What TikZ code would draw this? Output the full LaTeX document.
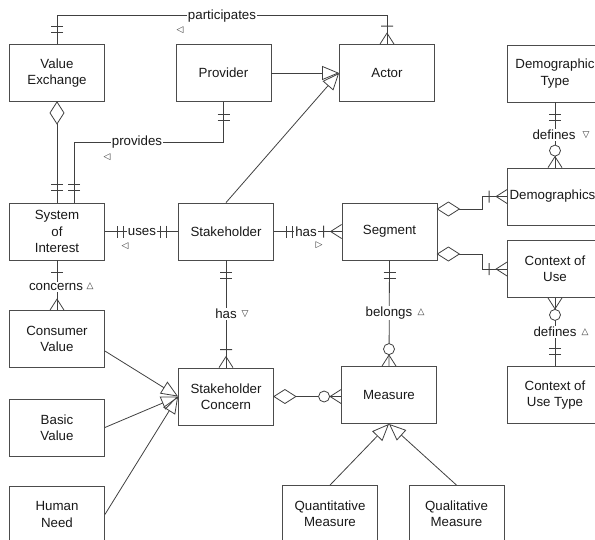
\documentclass[tikz,border=0pt]{standalone}
\usepackage{fontspec}
\setmainfont{Liberation Sans}
\newfontfamily\symfont{DejaVu Sans}
\usetikzlibrary{arrows.meta}
\begin{document}
\begin{tikzpicture}[x=1pt,y=1pt,line width=0.8pt,color=black!75,
  box/.style={draw=black!70,fill=white,minimum width=95pt,minimum height=57pt,align=center,inner sep=1pt,text=black!90,font=\fontsize{13.3}{16.3}\selectfont},
  lbl/.style={fill=white,inner sep=1pt,text=black!90,font=\fontsize{13.3}{16}\selectfont},
  tri/.style={inner sep=0pt,text=black!80,font=\symfont\fontsize{9}{10}\selectfont},
  gen/.style={-{Triangle[open,length=17pt,width=14pt]}},
  dbar/.pic={\draw (12,-6)--(12,6) (18,-6)--(18,6);},
  onebar/.pic={\draw (12,-6)--(12,6);},
  crow/.pic={\draw (0,-7)--(11,0)--(0,7);},
  crowbar/.pic={\draw (0,-7)--(11,0)--(0,7) (18,-6)--(18,6);},
  crowcirc/.pic={\draw (0,-7)--(11,0)--(0,7); \draw[fill=white] (17,0) circle (5.5);},
  diam/.pic={\draw[fill=white] (0,0)--(11,7)--(22,0)--(11,-7)--cycle;}
]
\useasboundingbox (0,0) rectangle (595,-539);
\clip (0,0) rectangle (595,-539);
% boxes
\node[box] (ve) at (57,-73) {Value\\Exchange};
\node[box] (prov) at (223.5,-73) {Provider};
\node[box] (actor) at (387,-73) {Actor};
\node[box] (dtype) at (555,-73.5) {Demographic\\Type};
\node[box] (soi) at (57,-231.5) {System\\of\\Interest};
\node[box] (stake) at (226,-231.5) {Stakeholder};
\node[box] (seg) at (389.5,-231.5) {Segment};
\node[box] (demo) at (555,-196.5) {Demographics\hspace*{5pt}};
\node[box] (cou) at (555,-269) {Context of\\Use};
\node[box] (cv) at (57,-339) {Consumer\\Value};
\node[box] (sc) at (226,-396.5) {Stakeholder\\Concern};
\node[box] (meas) at (389,-395) {Measure};
\node[box] (cout) at (555,-395) {Context of\\Use Type};
\node[box] (bv) at (57,-427.5) {Basic\\Value};
\node[box] (hn) at (57,-514.5) {Human\\Need};
\node[box] (quant) at (330,-514) {Quantitative\\Measure};
\node[box] (qual) at (456.5,-514) {Qualitative\\Measure};
% connectors
\draw (ve.north) -- ++(0,29) -| (actor.north);
\draw[gen] (prov.east) -- (actor.west);
\draw[gen] (stake.north) -- (actor.west);
\draw (prov.south) -- ++(0,-40.5) -| ([xshift=17]soi.north);
\draw (ve.south) -- (soi.north);
\draw (soi.east) -- (stake.west);
\draw (stake.east) -- (seg.west);
\draw ([yshift=22.5]seg.east) -- ++(45,0) |- (demo.west);
\draw ([yshift=-22.5]seg.east) -- ++(45,0) |- (cou.west);
\draw (dtype.south) -- (demo.north);
\draw (cou.south) -- (cout.north);
\draw (seg.south) -- (meas.north);
\draw (stake.south) -- (sc.north);
\draw (soi.south) -- (cv.north);
\draw[gen] ([yshift=-12]cv.east) -- (sc.west);
\draw[gen] (bv.east) -- (sc.west);
\draw[gen] (hn.east) -- (sc.west);
\draw (sc.east) -- (sc.east -| meas.west);
\draw[gen] (quant.north) -- (meas.south);
\draw[gen] (qual.north) -- (meas.south);
% end markers
\pic[rotate=90] at (ve.north) {dbar};
\pic[rotate=90] at (actor.north) {crowbar};
\pic[rotate=-90] at (prov.south) {dbar};
\pic[rotate=90] at ([xshift=17]soi.north) {dbar};
\pic[rotate=-90] at (ve.south) {diam};
\pic[rotate=90] at (soi.north) {dbar};
\pic at (soi.east) {dbar};
\pic[rotate=180] at (stake.west) {dbar};
\pic at (stake.east) {dbar};
\pic[rotate=180] at (seg.west) {crowbar};
\pic at ([yshift=22.5]seg.east) {diam};
\pic at ([yshift=-22.5]seg.east) {diam};
\pic[rotate=180] at (demo.west) {crowbar};
\pic[rotate=180] at (cou.west) {crowbar};
\pic[rotate=-90] at (dtype.south) {dbar};
\pic[rotate=90] at (demo.north) {crowcirc};
\pic[rotate=-90] at (cou.south) {crowcirc};
\pic[rotate=90] at (cout.north) {dbar};
\pic[rotate=-90] at (seg.south) {dbar};
\pic[rotate=90] at (meas.north) {crowcirc};
\pic[rotate=-90] at (stake.south) {dbar};
\pic[rotate=90] at (sc.north) {crowbar};
\pic[rotate=-90] at (soi.south) {onebar};
\pic[rotate=90] at (cv.north) {crow};
\pic at (sc.east) {diam};
\pic[rotate=180] at (sc.east -| meas.west) {crowcirc};
% labels
\node[lbl] (l1) at (222,-16) {participates};
\node[tri] (t1) at (180,-30) {◁};
\node[lbl] (l2) at (137,-142) {provides};
\node[tri] (t2) at (107,-157) {◁};
\node[lbl] (l3) at (142,-232) {uses};
\node[tri] (t3) at (125,-246) {◁};
\node[lbl] (l4) at (306,-232) {has};
\node[tri] (t4) at (319,-245) {▷};
\node[lbl] (l5) at (56,-287) {concerns};
\node[tri] (t5) at (90,-286) {△};
\node[lbl] (l6) at (226,-314) {has};
\node[tri] (t6) at (245,-314) {▽};
\node[lbl] (l7) at (389,-313) {belongs};
\node[tri] (t7) at (421,-312) {△};
\node[lbl] (l8) at (554,-135) {defines};
\node[tri] (t8) at (586,-135) {▽};
\node[lbl] (l9) at (555,-332) {defines};
\node[tri] (t9) at (585,-332) {△};
\end{tikzpicture}
\end{document}
